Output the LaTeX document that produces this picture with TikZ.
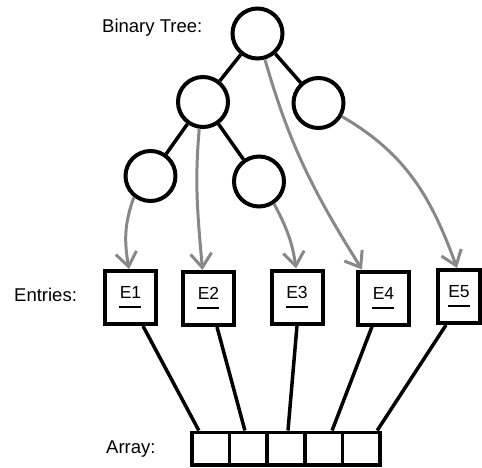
\documentclass[tikz,border=0pt]{standalone}
\usepackage{fontspec}
\setmainfont{Liberation Sans}
\usetikzlibrary{arrows.meta,calc}
\definecolor{arrgray}{RGB}{136,136,136}
\newcommand\entrytext[1]{\rlap{\hspace{-0.5pt}\rule[-9.5pt]{22pt}{2pt}}#1}
\begin{document}
\begin{tikzpicture}[x=1pt,y=1pt,
  treenode/.style={circle,draw,line width=4pt,minimum size=50pt,inner sep=0pt},
  entrybox/.style={rectangle,draw,line width=4pt,minimum width=51pt,minimum height=53pt,inner sep=0pt,font=\fontsize{17.5}{18}\selectfont},
  cellbox/.style={rectangle,draw,line width=3.5pt,minimum width=37.6pt,minimum height=32.5pt,inner sep=0pt},
  txtlabel/.style={font=\fontsize{18.5}{20}\selectfont,inner sep=0pt},
  treeedge/.style={line width=3.5pt},
  link/.style={line width=3.5pt},
  ptr/.style={draw=arrgray,line width=3pt,-{Straight Barb[length=14pt,width=21pt]}}
]
\useasboundingbox (0,0) rectangle (482,467);

% tree
\node[treenode] (root) at (257.5,433.5) {};
\node[treenode] (l) at (203,365) {};
\node[treenode] (r) at (318.5,364) {};
\node[treenode] (ll) at (150.5,291) {};
\node[treenode] (lr) at (259,285.5) {};
\draw[treeedge] (root) -- (l);
\draw[treeedge] (root) -- (r);
\draw[treeedge] (l) -- (ll);
\draw[treeedge] (l) -- (lr);

% entries
\node[entrybox] (e1) at (130.5,169.5) {\entrytext{E1}};
\node[entrybox] (e2) at (208.5,168.5) {\entrytext{E2}};
\node[entrybox] (e3) at (297,170) {\entrytext{E3}};
\node[entrybox] (e4) at (383.5,169) {\entrytext{E4}};
\node[entrybox,minimum width=42pt] (e5) at (459,170.5) {\entrytext{E5}};

% array
\node[cellbox] (c1) at (210.8,18.5) {};
\node[cellbox] (c2) at (248.4,18.5) {};
\node[cellbox] (c3) at (286,18.5) {};
\node[cellbox] (c4) at (323.6,18.5) {};
\node[cellbox] (c5) at (361.2,18.5) {};

% labels
\node[txtlabel,anchor=base west] (lbltree) at (102,434) {Binary Tree:};
\node[txtlabel,anchor=base west] (lblentries) at (14,166) {Entries:};
\node[txtlabel,anchor=base west] (lblarray) at (106,14) {Array:};

% entry to array links
\draw[link] ($(e1.south)+(12.5,0)$) -- ($(c1.north)+(-12,0)$);
\draw[link] ($(e2.south)+(8.5,0)$) -- ($(c2.north)+(-3.5,0)$);
\draw[link] ($(e3.south)+(0,0)$) -- ($(c3.north)+(2,0)$);
\draw[link] ($(e4.south)+(-11.5,0)$) -- ($(c4.north)+(8.5,0)$);
\draw[link] ($(e5.south)+(-13,0)$) -- ($(c5.north)+(16,0)$);

% tree to entries pointers
\draw[ptr] (ll.-128) to[out=-110,in=100] ($(e1.north)+(-1.5,0)$);
\draw[ptr] (l.-98) to[out=-95,in=95] ($(e2.north)+(-6,0)$);
\draw[ptr] (lr.-56) to[out=-62,in=98] ($(e3.north)+(-1,0)$);
\draw[ptr] (root.-74) to[out=-74,in=122] ($(e4.north)+(-21.5,0)$);
\draw[ptr] (r.-30) to[out=-30,in=110] ($(e5.north)+(-2,0)$);
\end{tikzpicture}
\end{document}
